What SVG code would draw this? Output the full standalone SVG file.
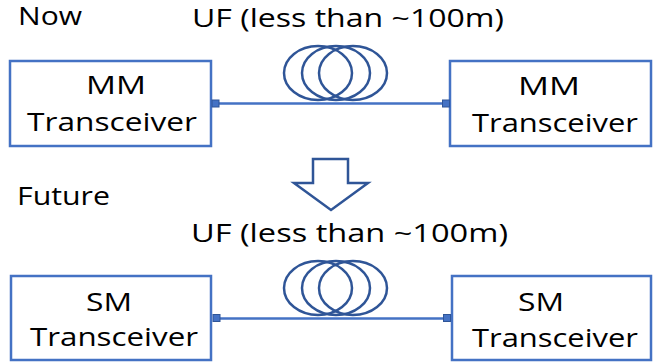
<svg xmlns="http://www.w3.org/2000/svg" width="653" height="362" viewBox="0 0 653 362">
  <style>
    .box { fill: #ffffff; stroke: #4472C4; stroke-width: 2.5; }
    .lbl { font-family: "Open Sans", "Noto Sans", sans-serif; font-size: 26px; fill: #000000; }
    .mid { text-anchor: middle; }
    .fiber { stroke: #4472C4; stroke-width: 2.5; fill: none; }
    .coil { stroke: #2F5597; stroke-width: 2.5; fill: none; }
    .port { fill: #4472C4; stroke: #2F5597; stroke-width: 1; }
    .down { fill: #ffffff; stroke: #2F5597; stroke-width: 2.5; stroke-linejoin: miter; }
  </style>
  <defs>
    <g id="spool">
      <ellipse cx="-18" cy="0" rx="34" ry="27" class="coil"/>
      <ellipse cx="0" cy="0" rx="34" ry="27" class="coil"/>
      <ellipse cx="17" cy="0" rx="34" ry="27" class="coil"/>
    </g>
  </defs>

  <!-- section headings -->
  <text class="lbl" x="18" y="25" textLength="64" lengthAdjust="spacingAndGlyphs">Now</text>
  <text class="lbl" x="17" y="205" textLength="93" lengthAdjust="spacingAndGlyphs">Future</text>

  <!-- fiber labels -->
  <text class="lbl" x="192" y="27" textLength="312" lengthAdjust="spacingAndGlyphs">UF (less than ~100m)</text>
  <text class="lbl" x="191" y="242" textLength="317" lengthAdjust="spacingAndGlyphs">UF (less than ~100m)</text>

  <!-- transceiver nodes -->
  <g id="mm-left">
    <rect class="box" x="10" y="61" width="201" height="85"/>
    <text class="lbl mid" x="116" y="94" textLength="60" lengthAdjust="spacingAndGlyphs">MM</text>
    <text class="lbl mid" x="112" y="131" textLength="170" lengthAdjust="spacingAndGlyphs">Transceiver</text>
  </g>
  <g id="mm-right">
    <rect class="box" x="450" y="61" width="201" height="85"/>
    <text class="lbl mid" x="549" y="95" textLength="62" lengthAdjust="spacingAndGlyphs">MM</text>
    <text class="lbl mid" x="555" y="132" textLength="166" lengthAdjust="spacingAndGlyphs">Transceiver</text>
  </g>
  <g id="sm-left">
    <rect class="box" x="11" y="276" width="200" height="84"/>
    <text class="lbl mid" x="109" y="311" textLength="46" lengthAdjust="spacingAndGlyphs">SM</text>
    <text class="lbl mid" x="114" y="346" textLength="168" lengthAdjust="spacingAndGlyphs">Transceiver</text>
  </g>
  <g id="sm-right">
    <rect class="box" x="452" y="276" width="199" height="84"/>
    <text class="lbl mid" x="541" y="311" textLength="46" lengthAdjust="spacingAndGlyphs">SM</text>
    <text class="lbl mid" x="555" y="347" textLength="166" lengthAdjust="spacingAndGlyphs">Transceiver</text>
  </g>

  <!-- transition arrow -->
  <g id="transition">
    <polygon class="down" points="313,159 348,159 348,183 368,183 331,210 294,183 313,183"/>
  </g>

  <!-- fiber links with coiled spools and end ports -->
  <g id="connectors">
    <line class="fiber" x1="219" y1="103.5" x2="442" y2="103.5"/>
    <use href="#spool" x="336" y="73"/>
    <rect class="port" x="212" y="100" width="7" height="7"/>
    <rect class="port" x="442.5" y="100" width="7" height="7"/>

    <line class="fiber" x1="220" y1="318.5" x2="443" y2="318.5"/>
    <use href="#spool" x="336" y="288"/>
    <rect class="port" x="213" y="314.5" width="7" height="7"/>
    <rect class="port" x="443.5" y="314.5" width="7" height="7"/>
  </g>
</svg>
